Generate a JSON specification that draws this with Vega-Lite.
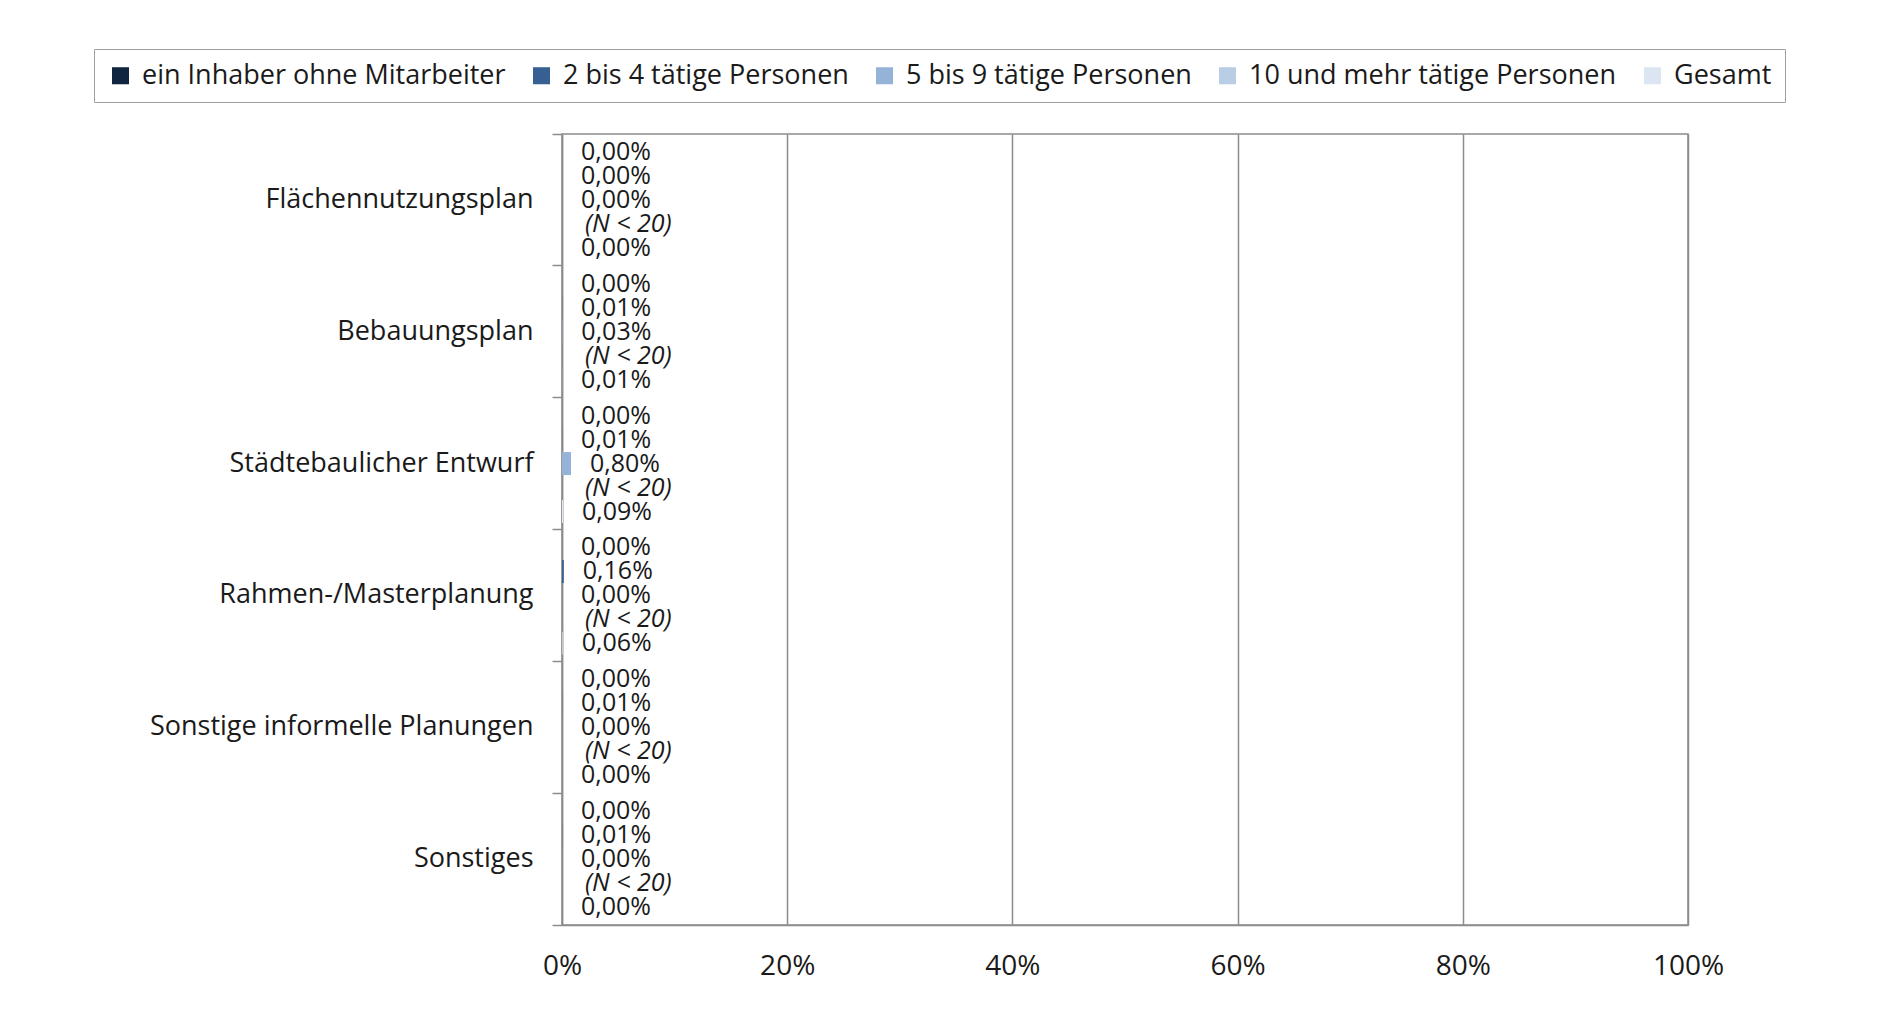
{
  "$schema": "https://vega.github.io/schema/vega-lite/v6.json",
  "width": 1126,
  "height": 791,
  "autosize": {"type": "none"},
  "padding": {"left": 562, "top": 134, "right": 198, "bottom": 98},
  "background": "white",
  "config": {
    "locale": {"number": {"decimal": ",", "thousands": ".", "grouping": [3], "currency": ["", " €"]}},
    "font": "Open Sans",
    "view": {"stroke": "#8c8c8c", "strokeWidth": 1.5},
    "axis": {"labelFont": "Open Sans", "labelColor": "#1a1a1a", "labelFontSize": 27, "title": null}
  },
  "data": {
    "values": [
      {"Kategorie": "Flächennutzungsplan", "Gruppe": "ein Inhaber ohne Mitarbeiter", "Anteil": 0},
      {"Kategorie": "Flächennutzungsplan", "Gruppe": "2 bis 4 tätige Personen", "Anteil": 0},
      {"Kategorie": "Flächennutzungsplan", "Gruppe": "5 bis 9 tätige Personen", "Anteil": 0},
      {"Kategorie": "Flächennutzungsplan", "Gruppe": "10 und mehr tätige Personen", "Anteil": null},
      {"Kategorie": "Flächennutzungsplan", "Gruppe": "Gesamt", "Anteil": 0},
      {"Kategorie": "Bebauungsplan", "Gruppe": "ein Inhaber ohne Mitarbeiter", "Anteil": 0},
      {"Kategorie": "Bebauungsplan", "Gruppe": "2 bis 4 tätige Personen", "Anteil": 0.0001},
      {"Kategorie": "Bebauungsplan", "Gruppe": "5 bis 9 tätige Personen", "Anteil": 0.0003},
      {"Kategorie": "Bebauungsplan", "Gruppe": "10 und mehr tätige Personen", "Anteil": null},
      {"Kategorie": "Bebauungsplan", "Gruppe": "Gesamt", "Anteil": 0.0001},
      {"Kategorie": "Städtebaulicher Entwurf", "Gruppe": "ein Inhaber ohne Mitarbeiter", "Anteil": 0},
      {"Kategorie": "Städtebaulicher Entwurf", "Gruppe": "2 bis 4 tätige Personen", "Anteil": 0.0001},
      {"Kategorie": "Städtebaulicher Entwurf", "Gruppe": "5 bis 9 tätige Personen", "Anteil": 0.008},
      {"Kategorie": "Städtebaulicher Entwurf", "Gruppe": "10 und mehr tätige Personen", "Anteil": null},
      {"Kategorie": "Städtebaulicher Entwurf", "Gruppe": "Gesamt", "Anteil": 0.0009},
      {"Kategorie": "Rahmen-/Masterplanung", "Gruppe": "ein Inhaber ohne Mitarbeiter", "Anteil": 0},
      {"Kategorie": "Rahmen-/Masterplanung", "Gruppe": "2 bis 4 tätige Personen", "Anteil": 0.0016},
      {"Kategorie": "Rahmen-/Masterplanung", "Gruppe": "5 bis 9 tätige Personen", "Anteil": 0},
      {"Kategorie": "Rahmen-/Masterplanung", "Gruppe": "10 und mehr tätige Personen", "Anteil": null},
      {"Kategorie": "Rahmen-/Masterplanung", "Gruppe": "Gesamt", "Anteil": 0.0006},
      {"Kategorie": "Sonstige informelle Planungen", "Gruppe": "ein Inhaber ohne Mitarbeiter", "Anteil": 0},
      {"Kategorie": "Sonstige informelle Planungen", "Gruppe": "2 bis 4 tätige Personen", "Anteil": 0.0001},
      {"Kategorie": "Sonstige informelle Planungen", "Gruppe": "5 bis 9 tätige Personen", "Anteil": 0},
      {"Kategorie": "Sonstige informelle Planungen", "Gruppe": "10 und mehr tätige Personen", "Anteil": null},
      {"Kategorie": "Sonstige informelle Planungen", "Gruppe": "Gesamt", "Anteil": 0},
      {"Kategorie": "Sonstiges", "Gruppe": "ein Inhaber ohne Mitarbeiter", "Anteil": 0},
      {"Kategorie": "Sonstiges", "Gruppe": "2 bis 4 tätige Personen", "Anteil": 0.0001},
      {"Kategorie": "Sonstiges", "Gruppe": "5 bis 9 tätige Personen", "Anteil": 0},
      {"Kategorie": "Sonstiges", "Gruppe": "10 und mehr tätige Personen", "Anteil": null},
      {"Kategorie": "Sonstiges", "Gruppe": "Gesamt", "Anteil": 0}
    ]
  },
  "resolve": {"axis": {"y": "independent"}},
  "layer": [
    {
      "mark": {"type": "bar"},
      "encoding": {
        "y": {
          "field": "Kategorie", "type": "nominal",
          "sort": ["Flächennutzungsplan", "Bebauungsplan", "Städtebaulicher Entwurf", "Rahmen-/Masterplanung", "Sonstige informelle Planungen", "Sonstiges"],
          "scale": {"paddingInner": 0, "paddingOuter": 0},
          "axis": {"orient": "left", "labels": false, "bandPosition": 1, "tickExtra": true, "domainColor": "#8c8c8c", "domainWidth": 1.5, "tickColor": "#8c8c8c", "tickWidth": 1.5, "tickSize": 10}
        },
        "yOffset": {
          "field": "Gruppe", "type": "nominal",
          "sort": ["ein Inhaber ohne Mitarbeiter", "2 bis 4 tätige Personen", "5 bis 9 tätige Personen", "10 und mehr tätige Personen", "Gesamt"],
          "scale": {"paddingInner": 0.04, "paddingOuter": 0.27}
        },
        "x": {
          "field": "Anteil", "type": "quantitative",
          "scale": {"domain": [0, 1]},
          "axis": {"values": [0, 0.2, 0.4, 0.6, 0.8, 1], "format": "%", "ticks": false, "labelFlush": false, "labelPadding": 27, "labelFontSize": 28, "domainColor": "#8c8c8c", "domainWidth": 1.5, "grid": true, "gridColor": "#8c8c8c", "gridWidth": 1.5}
        },
        "color": {
          "field": "Gruppe", "type": "nominal",
          "sort": ["ein Inhaber ohne Mitarbeiter", "2 bis 4 tätige Personen", "5 bis 9 tätige Personen", "10 und mehr tätige Personen", "Gesamt"],
          "scale": {
            "domain": ["ein Inhaber ohne Mitarbeiter", "2 bis 4 tätige Personen", "5 bis 9 tätige Personen", "10 und mehr tätige Personen", "Gesamt"],
            "range": ["#10253f", "#376092", "#95b3d7", "#b9cde5", "#dce6f2"]
          },
          "legend": {
            "title": null, "orient": "none", "direction": "horizontal", "legendX": -468, "legendY": -85,
            "symbolType": "square", "symbolSize": 290, "symbolStrokeWidth": 0,
            "labelFont": "Open Sans", "labelFontSize": 27, "labelColor": "#1a1a1a", "labelOffset": 8, "labelLimit": 0,
            "columnPadding": 22, "padding": 13, "strokeColor": "#a0a0a0", "fillColor": "white"
          }
        }
      }
    },
    {
      "transform": [{"filter": "datum.Anteil !== null"}],
      "mark": {"type": "text", "align": "left", "baseline": "middle", "dx": 19, "font": "Open Sans", "fontSize": 25, "color": "#1a1a1a"},
      "encoding": {
        "y": {
          "field": "Kategorie", "type": "nominal",
          "sort": ["Flächennutzungsplan", "Bebauungsplan", "Städtebaulicher Entwurf", "Rahmen-/Masterplanung", "Sonstige informelle Planungen", "Sonstiges"],
          "axis": {"orient": "left", "ticks": false, "domain": false, "labelPadding": 29, "labelLimit": 0}
        },
        "yOffset": {
          "field": "Gruppe", "type": "nominal",
          "sort": ["ein Inhaber ohne Mitarbeiter", "2 bis 4 tätige Personen", "5 bis 9 tätige Personen", "10 und mehr tätige Personen", "Gesamt"]
        },
        "x": {"field": "Anteil", "type": "quantitative"},
        "text": {"field": "Anteil", "type": "quantitative", "format": ".2%"}
      }
    },
    {
      "transform": [{"filter": "datum.Gruppe === '10 und mehr tätige Personen'"}],
      "mark": {"type": "text", "align": "left", "baseline": "middle", "dx": 23, "font": "Open Sans", "fontSize": 25, "fontStyle": "italic", "color": "#1a1a1a"},
      "encoding": {
        "y": {
          "field": "Kategorie", "type": "nominal",
          "sort": ["Flächennutzungsplan", "Bebauungsplan", "Städtebaulicher Entwurf", "Rahmen-/Masterplanung", "Sonstige informelle Planungen", "Sonstiges"],
          "axis": null
        },
        "yOffset": {
          "field": "Gruppe", "type": "nominal",
          "sort": ["ein Inhaber ohne Mitarbeiter", "2 bis 4 tätige Personen", "5 bis 9 tätige Personen", "10 und mehr tätige Personen", "Gesamt"]
        },
        "x": {"datum": 0, "type": "quantitative"},
        "text": {"value": "(N < 20)"}
      }
    }
  ]
}
